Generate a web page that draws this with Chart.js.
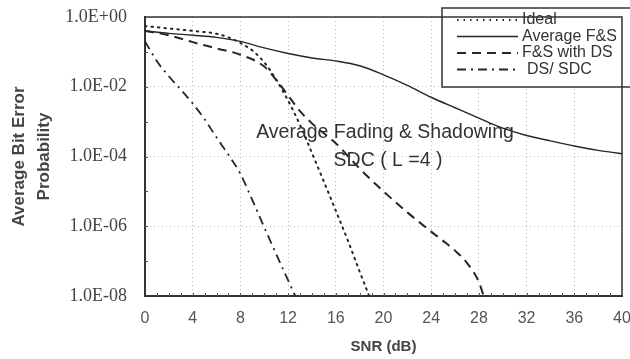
<!DOCTYPE html>
<html lang="en">
<head>
<meta charset="UTF-8">
<title>Average Bit Error Probability</title>
<script src="https://cdn.jsdelivr.net/npm/chart.js"></script>
<style>
  html, body { margin: 0; padding: 0; background: #fff; }
  #wrap { width: 630px; height: 359px; }
</style>
</head>
<body>
<div id="wrap"><canvas id="ber-chart"></canvas></div>
<script>
// SNR (dB) and bit error probability
const idealSnr = [0, 2, 4, 6, 7, 8, 9, 10, 11, 12, 13, 14, 15, 16, 17, 18, 18.8];
const idealBer = [0.55, 0.47, 0.40, 0.33, 0.26, 0.18, 0.11, 0.05, 0.016, 0.004, 8e-4, 1.26e-4, 1.9e-5, 2.8e-6, 4e-7, 5e-8, 1e-8];

const avgSnr = [0, 2, 4, 6, 8, 10, 12, 14, 16, 18, 20, 22, 24, 26, 28, 30, 32, 34, 36, 38, 40];
const avgBer = [0.40, 0.34, 0.30, 0.26, 0.2, 0.13, 0.09, 0.067, 0.055, 0.04, 0.022, 0.011, 0.005, 0.0025, 0.00126, 6.5e-4, 4e-4, 2.8e-4, 2e-4, 1.5e-4, 1.2e-4];

const dsSnr = [0, 2, 4, 6, 8, 10, 11, 12, 13, 14, 16, 18, 20, 22, 24, 25, 26, 27, 28, 28.4];
const dsBer = [0.40, 0.30, 0.19, 0.126, 0.083, 0.038, 0.0158, 0.0056, 0.002, 8.9e-4, 2.4e-4, 4.5e-5, 1e-5, 2.5e-6, 7e-7, 3.8e-7, 2e-7, 8.9e-8, 2.5e-8, 1e-8];

const sdcSnr = [0, 1, 2, 3, 4, 5, 6, 7, 8, 9, 10, 11, 12, 12.6];
const sdcBer = [0.20, 0.054, 0.02, 0.0083, 0.0033, 0.00117, 3.5e-4, 1.12e-4, 3.2e-5, 5.6e-6, 9.3e-7, 1.6e-7, 2.8e-8, 1e-8];

const xTicks = [0, 4, 8, 12, 16, 20, 24, 28, 32, 36, 40];
const yTickValues = [1e-8, 1e-6, 1e-4, 1e-2, 1];
const yTickLabels = ['1.0E-08', '1.0E-06', '1.0E-04', '1.0E-02', '1.0E+00'];

const toPoints = (xs, ys) => xs.map((x, i) => ({ x: x, y: ys[i] }));
const ink = '#262626';

// legend box drawn over the plot, top right
const legendBox = {
  id: 'legendBox',
  afterDatasetsDraw(chart) {
    const ctx = chart.ctx;
    ctx.save();
    ctx.fillStyle = '#fff';
    ctx.fillRect(442, 8, 190, 79);
    ctx.strokeStyle = '#333';
    ctx.lineWidth = 1.5;
    ctx.strokeRect(442, 8, 190, 79);
    chart.data.datasets.forEach((ds, i) => {
      const y = 20 + i * 16.5;
      ctx.beginPath();
      ctx.setLineDash(ds.borderDash || []);
      ctx.lineWidth = ds.borderWidth;
      ctx.strokeStyle = ds.borderColor;
      ctx.moveTo(457, y);
      ctx.lineTo(518, y);
      ctx.stroke();
      ctx.setLineDash([]);
      ctx.fillStyle = '#333';
      ctx.font = '16px "Liberation Sans", Arial, sans-serif';
      ctx.textBaseline = 'middle';
      ctx.fillText(ds.label, i === 3 ? 527 : 522, y);
    });
    ctx.restore();
  }
};

// plot frame, small inner ticks and the text inside the plot
const frameAndNotes = {
  id: 'frameAndNotes',
  beforeDatasetsDraw(chart) {
    const { ctx, chartArea: a, scales } = chart;
    ctx.save();
    ctx.strokeStyle = '#555';
    ctx.lineWidth = 1;
    ctx.beginPath();
    for (let d = 1; d < 40; d++) {
      const px = Math.round(scales.x.getPixelForValue(d)) + 0.5;
      ctx.moveTo(px, a.bottom);
      ctx.lineTo(px, a.bottom - 3);
    }
    for (let e = -7; e < 0; e++) {
      const py = Math.round(scales.y.getPixelForValue(Math.pow(10, e))) + 0.5;
      ctx.moveTo(a.left, py);
      ctx.lineTo(a.left + 3, py);
    }
    ctx.stroke();
    ctx.restore();
  },
  afterDraw(chart) {
    const { ctx, chartArea: a } = chart;
    ctx.save();
    ctx.strokeStyle = '#333';
    ctx.lineWidth = 1.5;
    ctx.beginPath();
    ctx.moveTo(a.left, a.top);
    ctx.lineTo(a.right, a.top);
    ctx.lineTo(a.right, a.bottom);
    ctx.stroke();
    ctx.fillStyle = '#333';
    ctx.font = '19.5px "Liberation Sans", Arial, sans-serif';
    ctx.textAlign = 'center';
    ctx.textBaseline = 'middle';
    ctx.fillText('Average Fading & Shadowing', 385, 133);
    ctx.fillText('SDC ( L =4 )', 388, 161);
    ctx.restore();
  }
};

const ctx = document.getElementById('ber-chart').getContext('2d');
const berChart = new Chart(ctx, {
  type: 'line',
  data: {
    datasets: [
      {
        label: 'Ideal',
        data: toPoints(idealSnr, idealBer),
        borderColor: ink,
        borderWidth: 2,
        borderDash: [1.5, 5],
        borderCapStyle: 'round'
      },
      {
        label: 'Average F&S',
        data: toPoints(avgSnr, avgBer),
        borderColor: ink,
        borderWidth: 1.4
      },
      {
        label: 'F&S with DS',
        data: toPoints(dsSnr, dsBer),
        borderColor: ink,
        borderWidth: 2,
        borderDash: [9, 6]
      },
      {
        label: 'DS/ SDC',
        data: toPoints(sdcSnr, sdcBer),
        borderColor: ink,
        borderWidth: 1.8,
        borderDash: [9, 5, 2, 5]
      }
    ]
  },
  options: {
    responsive: true,
    maintainAspectRatio: false,
    animation: false,
    devicePixelRatio: 1,
    layout: { padding: { top: 17, right: 8, bottom: 0, left: 0 } },
    elements: {
      point: { radius: 0 },
      line: { cubicInterpolationMode: 'monotone', fill: false }
    },
    plugins: {
      legend: { display: false },
      tooltip: { enabled: false }
    },
    scales: {
      x: {
        type: 'linear',
        min: 0,
        max: 40,
        afterBuildTicks: (s) => { s.ticks = xTicks.map(v => ({ value: v })); },
        afterFit: (s) => { s.height = 63; s.paddingLeft = 0; s.paddingRight = 0; },
        ticks: {
          color: '#555',
          padding: 13,
          maxRotation: 0,
          font: { family: '"Liberation Sans", Arial, sans-serif', size: 16 }
        },
        grid: { color: '#bbb', drawTicks: false, lineWidth: 1 },
        border: { color: '#333', width: 2, dash: [1, 3] },
        title: {
          display: true,
          text: 'SNR (dB)',
          color: '#444',
          padding: { top: 0, bottom: 3 },
          font: { family: '"Liberation Sans", Arial, sans-serif', size: 15, weight: 'bold' }
        }
      },
      y: {
        type: 'logarithmic',
        min: 1e-8,
        max: 1,
        afterBuildTicks: (s) => { s.ticks = yTickValues.map(v => ({ value: v })); },
        afterFit: (s) => { s.width = 145; s.paddingTop = 0; s.paddingBottom = 0; },
        ticks: {
          color: '#444',
          padding: 18,
          font: { family: '"Liberation Serif", "Times New Roman", serif', size: 18 },
          callback: (v) => {
            const i = yTickValues.indexOf(v);
            return i >= 0 ? yTickLabels[i] : '';
          }
        },
        grid: { color: '#bbb', drawTicks: false, lineWidth: 1 },
        border: { color: '#333', width: 2, dash: [1, 3] },
        title: {
          display: true,
          text: ['Average Bit Error', 'Probability'],
          color: '#444',
          padding: { top: 6.5, bottom: 0 },
          font: { family: '"Liberation Sans", Arial, sans-serif', size: 17, weight: 'bold', lineHeight: 25 / 17 }
        }
      }
    }
  },
  plugins: [legendBox, frameAndNotes]
});
</script>
</body>
</html>
